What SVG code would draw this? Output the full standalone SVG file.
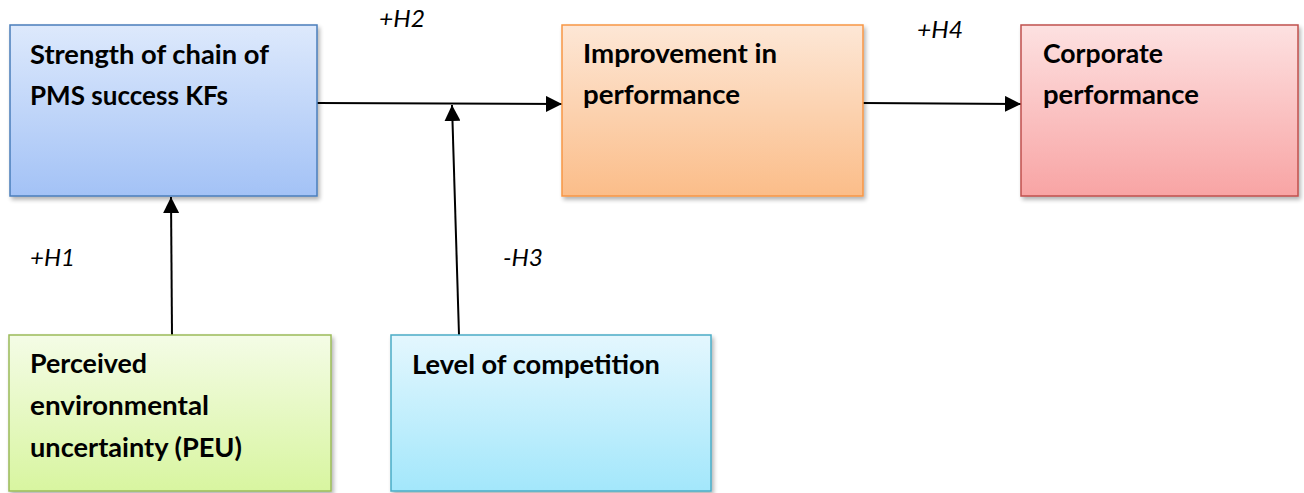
<svg xmlns="http://www.w3.org/2000/svg" width="1304" height="493" viewBox="0 0 1304 493">
  <defs>
    <style>
      .lbl { font-family: Lato, "Open Sans", "Liberation Sans", sans-serif; font-weight: bold; font-size: 26px; fill: #000; }
      .hyp { font-family: Lato, "Open Sans", "Liberation Sans", sans-serif; font-style: italic; font-size: 24px; fill: #000; }
      .box { stroke-width: 1.5; filter: url(#shadow); }
      .conn { stroke: #000; stroke-width: 2; fill: none; marker-end: url(#arrow); }
    </style>
    <filter id="shadow" x="-5%" y="-5%" width="115%" height="115%">
      <feGaussianBlur in="SourceAlpha" stdDeviation="2"/>
      <feOffset dx="2" dy="3" result="b"/>
      <feComponentTransfer><feFuncA type="linear" slope="0.3"/></feComponentTransfer>
      <feMerge><feMergeNode/><feMergeNode in="SourceGraphic"/></feMerge>
    </filter>
    <marker id="arrow" viewBox="0 0 16 16" refX="16" refY="8" markerWidth="16" markerHeight="16" markerUnits="userSpaceOnUse" orient="auto">
      <path d="M0,0 L16,8 L0,16 Z" fill="#000"/>
    </marker>
    <linearGradient id="gBlue" x1="0" y1="0" x2="0" y2="1">
      <stop offset="0" stop-color="#dde9fc"/>
      <stop offset="1" stop-color="#a3c2f6"/>
    </linearGradient>
    <linearGradient id="gOrange" x1="0" y1="0" x2="0" y2="1">
      <stop offset="0" stop-color="#fde7d6"/>
      <stop offset="1" stop-color="#fbbd89"/>
    </linearGradient>
    <linearGradient id="gRed" x1="0" y1="0" x2="0" y2="1">
      <stop offset="0" stop-color="#fde1e1"/>
      <stop offset="1" stop-color="#f8a4a4"/>
    </linearGradient>
    <linearGradient id="gGreen" x1="0" y1="0" x2="0" y2="1">
      <stop offset="0" stop-color="#f4fce6"/>
      <stop offset="1" stop-color="#d8f5a0"/>
    </linearGradient>
    <linearGradient id="gCyan" x1="0" y1="0" x2="0" y2="1">
      <stop offset="0" stop-color="#e4f7fe"/>
      <stop offset="1" stop-color="#a3e7fb"/>
    </linearGradient>
  </defs>

  <rect width="1304" height="493" fill="#fff"/>

  <!-- connectors -->
  <g id="connectors">
    <line class="conn" x1="317" y1="103" x2="562" y2="104"/>
    <line class="conn" x1="863" y1="103" x2="1021" y2="104"/>
    <line class="conn" x1="172" y1="335" x2="171" y2="197"/>
    <line class="conn" x1="459" y1="335" x2="452" y2="105"/>
  </g>

  <!-- hypothesis labels -->
  <g id="hypotheses">
    <text class="hyp" x="379" y="27" textLength="46" lengthAdjust="spacingAndGlyphs">+H2</text>
    <text class="hyp" x="917" y="38" textLength="46" lengthAdjust="spacingAndGlyphs">+H4</text>
    <text class="hyp" x="30" y="266" textLength="45" lengthAdjust="spacingAndGlyphs">+H1</text>
    <text class="hyp" x="503" y="266" textLength="40" lengthAdjust="spacingAndGlyphs">-H3</text>
  </g>

  <g id="node-strength">
    <rect class="box" x="10" y="25" width="307" height="171" fill="url(#gBlue)" stroke="#4a7ebb"/>
    <text class="lbl" x="30" y="64" textLength="239" lengthAdjust="spacingAndGlyphs">Strength of chain of</text>
    <text class="lbl" x="30" y="105" textLength="198" lengthAdjust="spacingAndGlyphs">PMS success KFs</text>
  </g>

  <g id="node-improvement">
    <rect class="box" x="562" y="25" width="301" height="171" fill="url(#gOrange)" stroke="#f79646"/>
    <text class="lbl" x="583" y="63" textLength="194" lengthAdjust="spacingAndGlyphs">Improvement in</text>
    <text class="lbl" x="583" y="104" textLength="157" lengthAdjust="spacingAndGlyphs">performance</text>
  </g>

  <g id="node-corporate">
    <rect class="box" x="1021" y="25" width="277" height="171" fill="url(#gRed)" stroke="#c0504d"/>
    <text class="lbl" x="1043" y="63" textLength="120" lengthAdjust="spacingAndGlyphs">Corporate</text>
    <text class="lbl" x="1043" y="104" textLength="156" lengthAdjust="spacingAndGlyphs">performance</text>
  </g>

  <g id="node-peu">
    <rect class="box" x="9" y="335" width="322" height="156" fill="url(#gGreen)" stroke="#9bbb59"/>
    <text class="lbl" x="30" y="373" textLength="117" lengthAdjust="spacingAndGlyphs">Perceived</text>
    <text class="lbl" x="30" y="415" textLength="179" lengthAdjust="spacingAndGlyphs">environmental</text>
    <text class="lbl" x="30" y="457" textLength="212" lengthAdjust="spacingAndGlyphs">uncertainty (PEU)</text>
  </g>

  <g id="node-competition">
    <rect class="box" x="391" y="335" width="320" height="156" fill="url(#gCyan)" stroke="#4bacc6"/>
    <text class="lbl" x="412" y="374" textLength="248" lengthAdjust="spacingAndGlyphs">Level of competition</text>
  </g>
</svg>
